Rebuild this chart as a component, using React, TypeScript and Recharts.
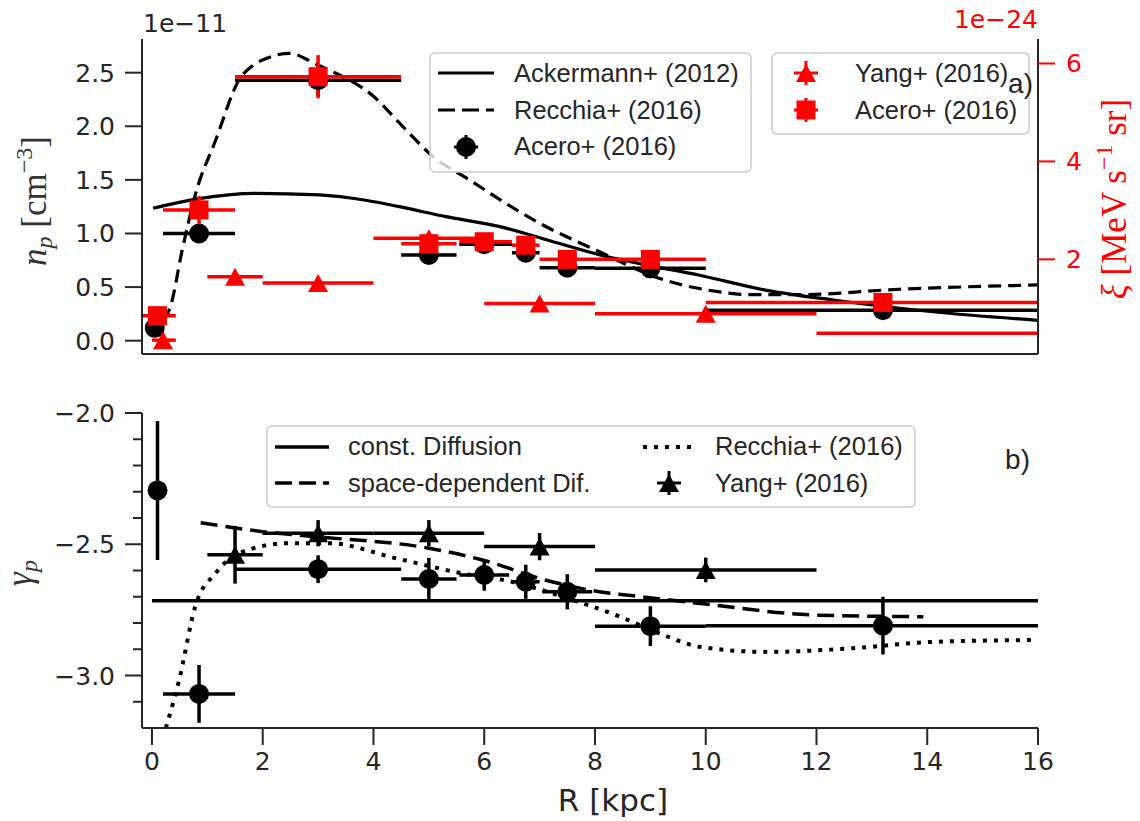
import React from 'react';
import { ComposedChart, Line, Scatter, XAxis, YAxis, ErrorBar } from 'recharts';

const INK = '#262626';
const RED = '#ff0000';
const TICK_FONT = '"DejaVu Sans", sans-serif';
const TEXT_FONT = '"Liberation Sans", Arial, sans-serif';
const MATH_FONT = '"Liberation Serif", "DejaVu Serif", serif';

// shared x axis, R in kpc
const xTicks = [0, 2, 4, 6, 8, 10, 12, 14, 16];
const xDomain = [-0.18, 16];

// panel a) left axis: n_p in 1e-11 cm^-3, right axis: xi in 1e-24 MeV s^-1 sr
const npTicks = [0, 0.5, 1.0, 1.5, 2.0, 2.5];
const npDomain = [-0.124, 2.814];
const xiTicks = [2, 4, 6];
const xiDomain = [0.067, 6.5];

// panel b) gamma_p
const gammaTicks = [-3.1, -3.0, -2.9, -2.8, -2.7, -2.6, -2.5, -2.4, -2.3, -2.2, -2.1, -2.0];
const gammaDomain = [-3.2, -2.0];

// Ackermann+ (2012), solid
const ackR = [0.02, 0.79, 1.87, 3.02, 3.86, 4.47, 5.31, 6.28, 7.2, 8.09, 9.0, 9.89, 11.1, 12.3, 14.1, 16];
const ackNp = [1.235, 1.32, 1.375, 1.36, 1.31, 1.25, 1.157, 1.064, 0.93, 0.8, 0.7, 0.61, 0.47, 0.38, 0.27, 0.19];

// Recchia+ (2016), dashed
const recR = [0.22, 0.34, 0.54, 0.79, 1.15, 1.57, 1.83, 2.1, 2.48, 3.0, 3.26, 4.0, 4.47, 5.07, 5.73, 7.0, 8.08, 9.17, 10.19, 10.8, 11.7, 13.5, 16];
const recNp = [0.19, 0.33, 0.83, 1.375, 1.87, 2.43, 2.57, 2.64, 2.68, 2.57, 2.51, 2.28, 2.03, 1.72, 1.5, 1.095, 0.83, 0.58, 0.46, 0.43, 0.43, 0.48, 0.52];

// Acero+ (2016), black circles (n_p)
const aceroR = [0.05, 0.85, 3.0, 5.0, 6.0, 6.75, 7.5, 9.0, 13.2];
const aceroRLo = [0.05, 0.65, 1.5, 0.5, 0.45, 0.25, 0.5, 1.0, 3.2];
const aceroRHi = [0.15, 0.65, 1.5, 0.5, 0.5, 0.25, 0.5, 1.0, 3.2];
const aceroNp = [0.12, 1.0, 2.43, 0.8, 0.9, 0.82, 0.68, 0.675, 0.285];
const aceroNpErr = [0.04, 0.06, 0.15, 0.03, 0.03, 0.03, 0.03, 0.03, 0.03];

// Acero+ (2016), red squares (xi)
const xiAceroR = [0.1, 0.85, 3.0, 5.0, 6.0, 6.75, 7.5, 9.0, 13.2];
const xiAceroRLo = [0.3, 0.65, 1.5, 0.5, 0.45, 0.25, 0.5, 1.0, 3.2];
const xiAceroRHi = [0.33, 0.65, 1.5, 0.5, 0.5, 0.25, 0.5, 1.0, 3.2];
const xiAcero = [0.85, 3.01, 5.73, 2.32, 2.36, 2.29, 2.0, 2.0, 1.12];
const xiAceroErr = [0.15, 0.28, 0.44, 0.12, 0.12, 0.12, 0.12, 0.12, 0.1];

// Yang+ (2016), red triangles (xi); the last bin's centre lies beyond the axis
const yangR = [0.2, 1.5, 3.0, 5.0, 7.0, 10.0, 17.0];
const yangRLo = [0.2, 0.5, 1, 1, 1, 2, 5];
const yangRHi = [0.23, 0.5, 1, 1, 1, 2, 1];
const xiYang = [0.35, 1.645, 1.516, 2.43, 1.1, 0.89, 0.49];
const xiYangErr = [0.08, 0.08, 0.08, 0.1, 0.08, 0.08, 0.08];

// panel b) curves
const constDiffR = [0, 16];
const constDiff = [-2.715, -2.715];
const spaceDepR = [0.88, 2.0, 2.95, 5.0, 5.97, 7.1, 8.08, 8.6, 10, 12, 13.93];
const spaceDep = [-2.418, -2.452, -2.471, -2.515, -2.56, -2.636, -2.681, -2.694, -2.728, -2.77, -2.776];
const recGammaR = [0.25, 0.49, 0.78, 1.15, 1.57, 2.48, 3.2, 4.4, 5.6, 6.5, 7.42, 8.45, 9.17, 9.9, 11.1, 12.6, 14.1, 15.9];
const recGamma = [-3.2, -3.018, -2.738, -2.61, -2.534, -2.496, -2.496, -2.553, -2.611, -2.643, -2.7, -2.776, -2.84, -2.891, -2.91, -2.897, -2.872, -2.865];

// panel b) Acero+ (2016) black circles
const gAceroR = [0.1, 0.85, 3.0, 5.0, 6.0, 6.75, 7.5, 9.0, 13.2];
const gAceroRLo = [0, 0.65, 1.5, 0.5, 0.45, 0.25, 0.45, 1.0, 3.2];
const gAceroRHi = [0, 0.65, 1.5, 0.5, 0.45, 0.25, 0.45, 1.0, 3.2];
const gAcero = [-2.295, -3.07, -2.595, -2.632, -2.617, -2.643, -2.681, -2.812, -2.81];
const gAceroErr = [0.265, 0.11, 0.053, 0.08, 0.06, 0.065, 0.067, 0.076, 0.11];

// panel b) Yang+ (2016) black triangles
const gYangR = [1.5, 3.0, 5.0, 7.0, 10.0];
const gYangRErr = [0.5, 1, 1, 1, 2];
const gYang = [-2.54, -2.458, -2.458, -2.509, -2.598];
const gYangErr = [0.11, 0.05, 0.05, 0.052, 0.047];

const inRange = (r: number) => r >= xDomain[0] && r <= xDomain[1];
const toLine = (rs: number[], vs: number[]) => rs.map((r, i) => ({ r, v: vs[i] }));
// error bars are cut at the axis limits (the plot clips them in the original)
const toPts = (rs: number[], lo: number[], hi: number[], vs: number[], ev: number[]) =>
  rs.map((r, i) => ({
    r,
    v: vs[i],
    ex: [Math.min(lo[i], r - xDomain[0]), Math.min(hi[i], xDomain[1] - r)],
    ey: inRange(r) ? ev[i] : 0,
  }));

const ackData = toLine(ackR, ackNp);
const recData = toLine(recR, recNp);
const aceroData = toPts(aceroR, aceroRLo, aceroRHi, aceroNp, aceroNpErr);
const xiAceroData = toPts(xiAceroR, xiAceroRLo, xiAceroRHi, xiAcero, xiAceroErr);
const xiYangData = toPts(yangR, yangRLo, yangRHi, xiYang, xiYangErr);
const constDiffData = toLine(constDiffR, constDiff);
const spaceDepData = toLine(spaceDepR, spaceDep);
const recGammaData = toLine(recGammaR, recGamma);
const gAceroData = toPts(gAceroR, gAceroRLo, gAceroRHi, gAcero, gAceroErr);
const gYangData = toPts(gYangR, gYangRErr, gYangRErr, gYang, gYangErr);

const fmt1 = (v: number) => v.toFixed(1).replace('-', '\u2212');

const hidden = (p: any) => p.payload && !inRange(p.payload.r);
const circle = (color: string) => (p: any) =>
  hidden(p) ? <g /> : <circle cx={p.cx} cy={p.cy} r={10} fill={color} />;
const square = (color: string) => (p: any) =>
  hidden(p) ? <g /> : <rect x={p.cx - 9.5} y={p.cy - 9.5} width={19} height={19} fill={color} />;
const triangle = (color: string) => (p: any) =>
  hidden(p) ? (
    <g />
  ) : (
    <polygon points={`${p.cx},${p.cy - 9} ${p.cx - 10},${p.cy + 9} ${p.cx + 10},${p.cy + 9}`} fill={color} />
  );

const spine = { stroke: INK, strokeWidth: 2 };
const tickStyle = { fill: INK, fontSize: 25, fontFamily: TICK_FONT };

// left axis of panel b) has minor ticks every 0.1
const GammaTick = (props: any) => {
  const { x, y, payload } = props;
  const v = payload.value;
  const major = Math.abs(v * 2 - Math.round(v * 2)) < 1e-6;
  const ax = x + 27;
  return (
    <g>
      <line x1={ax - (major ? 17 : 9)} x2={ax} y1={y} y2={y} stroke={INK} strokeWidth={2} />
      {major && (
        <text x={x} y={y} dy="0.36em" textAnchor="end" fill={INK} fontSize={25} fontFamily={TICK_FONT}>
          {fmt1(v)}
        </text>
      )}
    </g>
  );
};

function TopPanel() {
  return (
    <ComposedChart width={1140} height={400} margin={{ top: 39, right: 42, bottom: 26, left: 82 }}>
      <XAxis
        type="number"
        dataKey="r"
        domain={xDomain}
        ticks={xTicks}
        interval={0}
        allowDataOverflow
        tick={false}
        tickSize={17}
        height={20}
        axisLine={spine}
        tickLine={spine}
      />
      <XAxis xAxisId="top" orientation="top" type="number" domain={xDomain} tick={false} tickLine={false} height={0} axisLine={spine} />
      <YAxis
        yAxisId="left"
        type="number"
        domain={npDomain}
        ticks={npTicks}
        interval={0}
        allowDataOverflow
        tickFormatter={fmt1}
        tick={tickStyle}
        tickSize={17}
        tickMargin={10}
        width={60}
        axisLine={spine}
        tickLine={spine}
      />
      <YAxis
        yAxisId="right"
        orientation="right"
        type="number"
        domain={xiDomain}
        ticks={xiTicks}
        interval={0}
        allowDataOverflow
        tick={{ ...tickStyle, fill: RED }}
        tickSize={17}
        tickMargin={11}
        width={60}
        axisLine={spine}
        tickLine={{ stroke: RED, strokeWidth: 2 }}
      />
      <Line yAxisId="left" data={ackData} dataKey="v" type="monotone" stroke="#000" strokeWidth={3.2} dot={false} activeDot={false} isAnimationActive={false} />
      <Line yAxisId="left" data={recData} dataKey="v" type="monotone" stroke="#000" strokeWidth={3.2} strokeDasharray="13 7" dot={false} activeDot={false} isAnimationActive={false} />
      <Scatter yAxisId="left" data={aceroData} dataKey="v" shape={circle('#000')} isAnimationActive={false}>
        <ErrorBar dataKey="ex" direction="x" width={0} stroke="#000" strokeWidth={3.5} />
        <ErrorBar dataKey="ey" direction="y" width={0} stroke="#000" strokeWidth={3.5} />
      </Scatter>
      <Scatter yAxisId="right" data={xiYangData} dataKey="v" shape={triangle(RED)} isAnimationActive={false}>
        <ErrorBar dataKey="ex" direction="x" width={0} stroke={RED} strokeWidth={3.5} />
        <ErrorBar dataKey="ey" direction="y" width={0} stroke={RED} strokeWidth={3.5} />
      </Scatter>
      <Scatter yAxisId="right" data={xiAceroData} dataKey="v" shape={square(RED)} isAnimationActive={false}>
        <ErrorBar dataKey="ex" direction="x" width={0} stroke={RED} strokeWidth={3.5} />
        <ErrorBar dataKey="ey" direction="y" width={0} stroke={RED} strokeWidth={3.5} />
      </Scatter>
    </ComposedChart>
  );
}

function BottomPanel() {
  return (
    <ComposedChart width={1140} height={421} margin={{ top: 13, right: 102, bottom: 23, left: 82 }}>
      <XAxis
        type="number"
        dataKey="r"
        domain={xDomain}
        ticks={xTicks}
        interval={0}
        allowDataOverflow
        tick={tickStyle}
        tickSize={17}
        tickMargin={7}
        height={70}
        axisLine={spine}
        tickLine={spine}
      />
      <XAxis xAxisId="top" orientation="top" type="number" domain={xDomain} tick={false} tickLine={false} height={0} axisLine={spine} />
      <YAxis
        type="number"
        domain={gammaDomain}
        ticks={gammaTicks}
        interval={0}
        allowDataOverflow
        tick={<GammaTick />}
        tickLine={false}
        tickSize={17}
        tickMargin={10}
        width={60}
        axisLine={spine}
      />
      <YAxis yAxisId="rs" orientation="right" type="number" domain={[0, 1]} tick={false} tickLine={false} width={0} axisLine={spine} />
      <Line data={constDiffData} dataKey="v" type="linear" stroke="#000" strokeWidth={3.5} dot={false} activeDot={false} isAnimationActive={false} />
      <Line data={spaceDepData} dataKey="v" type="monotone" stroke="#000" strokeWidth={3.5} strokeDasharray="17 8" dot={false} activeDot={false} isAnimationActive={false} />
      <Line data={recGammaData} dataKey="v" type="monotone" stroke="#000" strokeWidth={4} strokeDasharray="4 7" dot={false} activeDot={false} isAnimationActive={false} />
      <Scatter data={gAceroData} dataKey="v" shape={circle('#000')} isAnimationActive={false}>
        <ErrorBar dataKey="ex" direction="x" width={0} stroke="#000" strokeWidth={3.5} />
        <ErrorBar dataKey="ey" direction="y" width={0} stroke="#000" strokeWidth={3.5} />
      </Scatter>
      <Scatter data={gYangData} dataKey="v" shape={triangle('#000')} isAnimationActive={false}>
        <ErrorBar dataKey="ex" direction="x" width={0} stroke="#000" strokeWidth={3.5} />
        <ErrorBar dataKey="ey" direction="y" width={0} stroke="#000" strokeWidth={3.5} />
      </Scatter>
    </ComposedChart>
  );
}

// legend entries
const legendA1 = ['Ackermann+ (2012)', 'Recchia+ (2016)', 'Acero+ (2016)'];
const legendA2 = ['Yang+ (2016)', 'Acero+ (2016)'];
const legendB1 = ['const. Diffusion', 'space-dependent Dif.'];
const legendB2 = ['Recchia+ (2016)', 'Yang+ (2016)'];

const legendText = { fill: INK, fontSize: 25.5, fontFamily: TEXT_FONT };
const boxStyle = { fill: '#fff', fillOpacity: 0.8, stroke: '#cccccc', strokeWidth: 1.5 };

const Cross = ({ x, y, color }: { x: number; y: number; color: string }) => (
  <g stroke={color} strokeWidth={3}>
    <line x1={x - 12} x2={x + 12} y1={y} y2={y} />
    <line x1={x} x2={x} y1={y - 12} y2={y + 12} />
  </g>
);

function Overlay() {
  return (
    <svg width={1140} height={821} style={{ position: 'absolute', left: 0, top: 0, pointerEvents: 'none' }}>
      {/* offsets */}
      <text x={143} y={32} fill={INK} fontSize={25} fontFamily={TICK_FONT}>1e−11</text>
      <text x={1038} y={28} textAnchor="end" fill={RED} fontSize={25} fontFamily={TICK_FONT}>1e−24</text>

      {/* axis titles */}
      <text transform="translate(46,201) rotate(-90)" textAnchor="middle" fill="#333" fontSize={35} fontFamily={MATH_FONT}>
        <tspan fontStyle="italic">n</tspan>
        <tspan fontStyle="italic" fontSize={24} dy={6}>p</tspan>
        <tspan dy={-6}> [cm</tspan>
        <tspan fontSize={24} dy={-14}>−3</tspan>
        <tspan dy={14}>]</tspan>
      </text>
      <text transform="translate(1126,199) rotate(-90)" textAnchor="middle" fill={RED} fontSize={35} fontFamily={MATH_FONT}>
        <tspan fontStyle="italic">ξ</tspan>
        <tspan> [MeV s</tspan>
        <tspan fontSize={24} dy={-14}>−1</tspan>
        <tspan dy={14}> sr]</tspan>
      </text>
      <text transform="translate(31,573) rotate(-90)" textAnchor="middle" fill="#333" fontSize={35} fontFamily={MATH_FONT}>
        <tspan fontStyle="italic">γ</tspan>
        <tspan fontStyle="italic" fontSize={24} dy={6}>p</tspan>
      </text>
      <text x={613} y={811} textAnchor="middle" fill={INK} fontSize={31} fontFamily={TICK_FONT}>R [kpc]</text>

      {/* legend a), left box */}
      <rect x={430} y={53} width={321} height={119} rx={5} {...boxStyle} />
      <line x1={438} x2={494} y1={73} y2={73} stroke="#000" strokeWidth={3.2} />
      <line x1={438} x2={494} y1={110} y2={110} stroke="#000" strokeWidth={3.2} strokeDasharray="17 7" />
      <Cross x={466} y={147} color="#000" />
      <circle cx={466} cy={147} r={10} fill="#000" />
      {legendA1.map((t, i) => (
        <text key={t + i} x={514} y={82 + i * 36.7} {...legendText}>{t}</text>
      ))}

      {/* legend a), right box */}
      <rect x={772} y={53} width={257} height={81} rx={5} {...boxStyle} />
      <Cross x={806} y={73} color={RED} />
      <polygon points="806,64 796,82 816,82" fill={RED} />
      <Cross x={806} y={110} color={RED} />
      <rect x={796.5} y={100.5} width={19} height={19} fill={RED} />
      {legendA2.map((t, i) => (
        <text key={t + i} x={855} y={82 + i * 36.7} {...legendText}>{t}</text>
      ))}
      <text x={1033} y={93} textAnchor="end" fill={INK} fontSize={28} fontFamily={TEXT_FONT}>a)</text>

      {/* legend b) */}
      <rect x={267} y={426} width={648} height={81} rx={5} {...boxStyle} />
      <line x1={275} x2={329} y1={447} y2={447} stroke="#000" strokeWidth={3.5} />
      <line x1={275} x2={329} y1={483} y2={483} stroke="#000" strokeWidth={3.5} strokeDasharray="17 7" />
      {legendB1.map((t, i) => (
        <text key={t} x={348} y={455 + i * 36.7} {...legendText}>{t}</text>
      ))}
      <line x1={643} x2={692} y1={447} y2={447} stroke="#000" strokeWidth={4} strokeDasharray="4 7" />
      <Cross x={669} y={483} color="#000" />
      <polygon points="669,474 659,492 679,492" fill="#000" />
      {legendB2.map((t, i) => (
        <text key={t} x={715} y={455 + i * 36.7} {...legendText}>{t}</text>
      ))}
      <text x={1030} y={469} textAnchor="end" fill={INK} fontSize={28} fontFamily={TEXT_FONT}>b)</text>
    </svg>
  );
}

export default function App() {
  return (
    <div style={{ position: 'absolute', left: 0, top: 0, width: 1140, height: 821, background: '#fff' }}>
      <div style={{ position: 'absolute', left: 0, top: 0 }}>
        <TopPanel />
      </div>
      <div style={{ position: 'absolute', left: 0, top: 400 }}>
        <BottomPanel />
      </div>
      <Overlay />
    </div>
  );
}
